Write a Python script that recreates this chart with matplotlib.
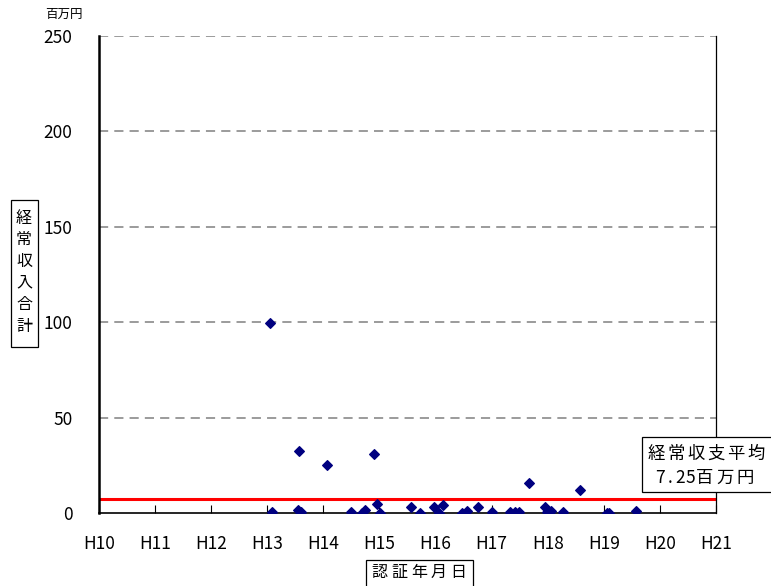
import matplotlib
matplotlib.use('Agg')
import matplotlib.pyplot as plt
from matplotlib.patches import Rectangle

plt.rcParams['font.family'] = ['Noto Sans CJK JP', 'DejaVu Sans']

# certification date (Heisei year, fractional) and ordinary income total (million yen)
cert_year = [13.04, 13.08, 13.55, 13.57, 13.61, 14.07, 14.49, 14.68, 14.75, 14.90,
             14.95, 15.01, 15.56, 15.72, 15.97, 16.07, 16.14, 16.48, 16.56, 16.75,
             17.00, 17.33, 17.42, 17.49, 17.67, 17.96, 17.98, 18.05, 18.27, 18.58,
             19.05, 19.09, 19.57]
income = [99.4, 0.7, 1.6, 32.7, 0.7, 25.3, 0.7, 0.2, 1.6, 30.8,
          4.9, 0.2, 2.9, 0.2, 3.0, 0.2, 4.0, 0.2, 0.9, 3.0,
          0.5, 0.5, 0.3, 0.7, 15.6, 3.0, 0.3, 1.2, 0.5, 12.1,
          0.2, 0.1, 1.2]
average = 7.25

x_ticks = list(range(10, 22))
x_labels = ['H%d' % t for t in x_ticks]
y_ticks = [0, 50, 100, 150, 200, 250]

W, H = 771, 586
fig = plt.figure(figsize=(W / 100, H / 100), dpi=100)
ax = fig.add_axes([99 / W, 1 - 513 / H, 617 / W, 477 / H])


def spaced(chars, x0, y, pitch, size, vertical=False):
    # place each glyph on a fixed pitch (pixel coords, y from top)
    pos = x0 if not vertical else y
    for c in chars:
        half = 0.5 if (c.isascii() and not vertical) else 1.0
        step = pitch * half
        if vertical:
            px, py = x0, pos
        else:
            px, py = pos + step / 2, y
        fig.text(px / W, 1 - py / H, c, fontsize=size, ha='center', va='center')
        pos += step


def frame(x0, y0, x1, y1):
    fig.add_artist(Rectangle((x0 / W, 1 - y1 / H), (x1 - x0) / W, (y1 - y0) / H,
                             transform=fig.transFigure, facecolor='white',
                             edgecolor='black', linewidth=0.9, zorder=0.5))


for yv in y_ticks[1:]:
    ax.axhline(yv, color='#808080', linestyle=(0, (6, 4)), linewidth=1.1, zorder=1)

ax.axhline(average, color='#ff0000', linewidth=2.2, zorder=2)
ax.scatter(cert_year, income, marker='D', s=24, color='#000080', zorder=3)

ax.set_xlim(10, 21)
ax.set_ylim(0, 250)
ax.set_xticks(x_ticks)
ax.set_xticklabels(x_labels)
ax.set_yticks(y_ticks)

ax.spines['top'].set_visible(False)
ax.spines['left'].set_linewidth(1.8)
ax.spines['bottom'].set_linewidth(1.2)
ax.spines['right'].set_linewidth(0.9)
ax.tick_params(axis='x', direction='in', length=6, pad=16, labelsize=12.5)
ax.tick_params(axis='y', direction='in', length=0, pad=19, labelsize=12.5)

fig.text(45 / W, 1 - 14 / H, '百万円', fontsize=9, ha='left', va='center')

# y-axis title, one glyph per line
frame(11, 200, 37.5, 347)
spaced('経常収入合計', 24, 218, 21.7, 11.5, vertical=True)

# x-axis title
frame(366, 560, 473, 600)
spaced('認証年月日', 370, 572, 19.6, 11.5)

# average annotation, box runs off the right edge
frame(642, 437, 820, 492)
spaced('経常収支平均', 646, 454, 20, 12.5)
spaced('7.25百万円', 655, 478, 20, 12.5)

fig.savefig('out.png', dpi=100)
